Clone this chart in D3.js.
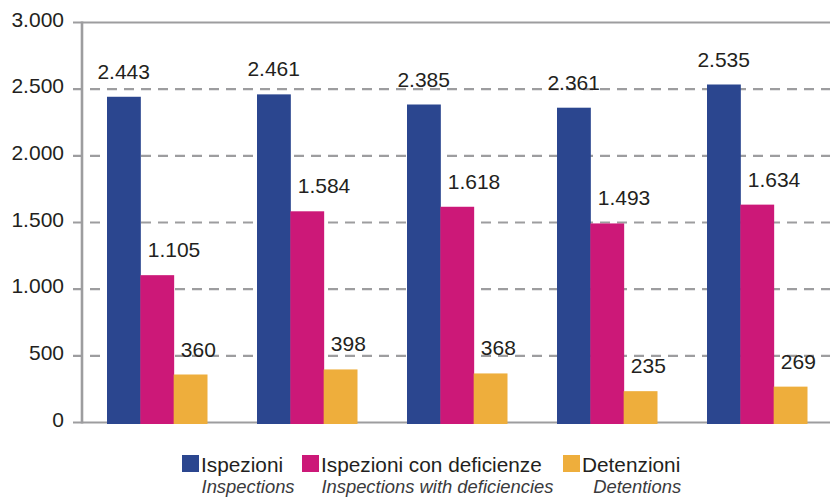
<!DOCTYPE html>
<html>
<head>
<meta charset="utf-8">
<script src="https://cdn.jsdelivr.net/npm/d3@7"></script>
<style>
  body { margin: 0; background: #fff; }
  svg { display: block; }
  text { font-family: "Liberation Sans", "DejaVu Sans", sans-serif; fill: #231f20; }
</style>
</head>
<body>
<svg id="chart" width="830" height="499"></svg>
<script>
// groups (no labels shown on the x axis)
const groups = ["g1", "g2", "g3", "g4", "g5"];
const seriesKeys = ["ispezioni", "deficienze", "detenzioni"];
const seriesNames = ["Ispezioni", "Ispezioni con deficienze", "Detenzioni"];
const seriesNamesEn = ["Inspections", "Inspections with deficiencies", "Detentions"];
const seriesColors = ["#2b468f", "#cc1878", "#eeae3c"];

const ispezioni = [2443, 2461, 2385, 2361, 2535];
const deficienze = [1105, 1584, 1618, 1493, 1634];
const detenzioni = [360, 398, 368, 235, 269];

const yTicks = [0, 500, 1000, 1500, 2000, 2500, 3000];

const values = { ispezioni: ispezioni, deficienze: deficienze, detenzioni: detenzioni };

const svg = d3.select("#chart");
const gridColor = "#9d9d9f";

let y = d3.scaleLinear().domain([0, 3000]).range([422.5, 22.5]);
let x = d3.scaleBand().domain(groups).range([82, 832]).paddingInner(1 / 3).paddingOuter(1 / 6);
let xs = d3.scaleBand().domain(seriesKeys).range([0, x.bandwidth()]);

// gridlines
svg.append("g")
    .selectAll("line")
    .data(yTicks)
    .enter()
    .append("line")
    .attr("x1", 73)
    .attr("x2", 830)
    .attr("y1", d => y(d))
    .attr("y2", d => y(d))
    .attr("stroke", gridColor)
    .attr("stroke-width", 2.2)
    .attr("stroke-dasharray", d => (d === 0 || d === 3000) ? null : "10,7");

// y axis line + tick labels
svg.append("line")
    .attr("x1", 82).attr("x2", 82)
    .attr("y1", y(3000) - 1).attr("y2", y(0) + 1)
    .attr("stroke", gridColor)
    .attr("stroke-width", 2.6);

let fmt = d => d3.format(",")(d).replace(/,/g, ".");

svg.append("g")
    .selectAll("text")
    .data(yTicks)
    .enter()
    .append("text")
    .attr("x", 64)
    .attr("y", d => y(d) + 4)
    .attr("text-anchor", "end")
    .attr("font-size", 21)
    .text(fmt);

// bars
let labelShift = { ispezioni: 0, deficienze: 17, detenzioni: 8 };

let grp = svg.append("g")
    .selectAll("g")
    .data(groups)
    .enter()
    .append("g")
    .attr("transform", d => "translate(" + x(d) + ",0)");

grp.selectAll("rect")
    .data((g, i) => seriesKeys.map((k, j) => ({ key: k, v: values[k][i], color: seriesColors[j] })))
    .enter()
    .append("rect")
    .attr("x", d => xs(d.key))
    .attr("width", xs.bandwidth() + 0.5)
    .attr("y", d => y(d.v))
    .attr("height", d => y(0) + 1.5 - y(d.v))
    .attr("fill", d => d.color);

grp.selectAll("text")
    .data((g, i) => seriesKeys.map(k => ({ key: k, v: values[k][i] })))
    .enter()
    .append("text")
    .attr("x", d => xs(d.key) + xs.bandwidth() / 2 + labelShift[d.key])
    .attr("y", d => y(d.v) - 18)
    .attr("text-anchor", "middle")
    .attr("font-size", 21)
    .text(d => fmt(d.v));

// legend
let legendX = [182, 302, 563];
let leg = svg.append("g")
    .selectAll("g")
    .data(seriesNames)
    .enter()
    .append("g")
    .attr("transform", (d, i) => "translate(" + legendX[i] + ",455)");

leg.append("rect")
    .attr("width", 17)
    .attr("height", 17)
    .attr("fill", (d, i) => seriesColors[i]);

leg.append("text")
    .attr("class", "lab")
    .attr("x", 19)
    .attr("y", 16.5)
    .attr("font-size", 20.8)
    .text(d => d);

leg.each(function (d, i) {
    let g = d3.select(this);
    let bb = g.select("text.lab").node().getBBox();
    g.append("text")
        .attr("x", bb.x + bb.width / 2 + 6)
        .attr("y", 38)
        .attr("text-anchor", "middle")
        .attr("font-size", 18.4)
        .attr("font-style", "italic")
        .style("fill", "#3a3a3c")
        .text(seriesNamesEn[i]);
});
</script>
</body>
</html>
